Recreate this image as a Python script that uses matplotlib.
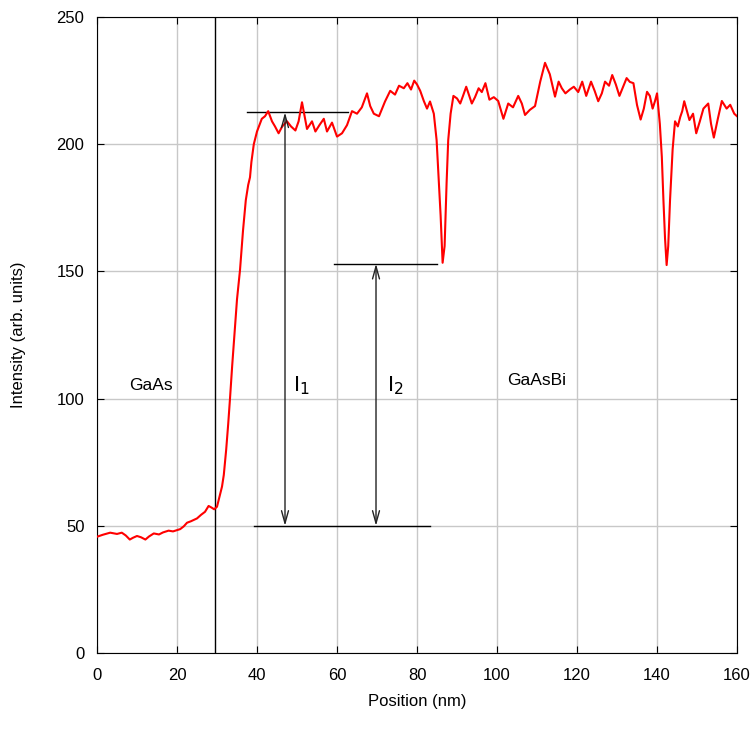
import numpy as np
import matplotlib.pyplot as plt

plt.rcParams['font.family'] = ['Liberation Sans', 'DejaVu Sans']

# Perfil de intensidade
pos = [0, 1.5, 3.3, 5, 6.2, 7.2, 8.2, 9, 10, 11, 12.1, 13, 14.2, 15.5, 16.5, 17.9, 19, 20.8,
       21.7, 22.5, 23.5, 25, 26, 27, 27.9, 28.6, 29.3, 30, 30.4, 30.8, 31.25, 31.7, 32.3, 32.8,
       33.25, 33.8, 34.4, 35, 35.75, 36.5, 37.2, 37.8, 38.25, 38.6, 39.2, 40, 40.6, 41.2, 42,
       42.8, 43.75, 44.5, 45.4, 46.3, 47.5, 48.5, 49.6, 50.4, 51.25, 52.5, 53.75, 54.6, 55.6,
       56.7, 57.5, 58.75, 60, 61.25, 62.5, 63.75, 65, 66.2, 67.5, 68.3, 69.2, 70.5, 72, 73.3,
       74.5, 75.5, 76.7, 77.6, 78.5, 79.3, 80, 80.8, 81.7, 82.5, 83.25, 84.2, 84.9, 85.3, 85.9,
       86.4, 86.9, 87.4, 87.8, 88.4, 89.1, 90, 90.8, 91.5, 92.3, 93.7, 94.5, 95.4, 96.2, 97.1,
       98.1, 99.2, 100.3, 101.6, 102.8, 104, 105.3, 106.2, 107, 108.2, 109.5, 110.8, 112,
       113.2, 114.5, 115.4, 116.2, 117.1, 118.2, 119.2, 120.3, 121.3, 122.3, 123.5, 124.4,
       125.3, 126.2, 127, 128, 128.8, 129.7, 130.6, 131.5, 132.4, 133.2, 134.1, 135, 135.9,
       136.7, 137.5, 138.2, 138.9, 139.5, 140, 140.7, 141.2, 141.6, 142, 142.4, 142.8, 143.25,
       143.9, 144.5, 145.2, 145.8, 146.3, 146.8, 147.5, 148.1, 149, 149.8, 150.7, 151.6, 152.8,
       153.5, 154.2, 155.2, 156.2, 157.4, 158.3, 159.3, 160]
intens = [45.7, 46.5, 47.3, 46.8, 47.3, 46.2, 44.6, 45.3, 46, 45.5, 44.6, 45.8, 47, 46.6, 47.4,
          48.1, 47.8, 48.7, 49.8, 51.2, 51.8, 52.9, 54.3, 55.5, 57.8, 57.2, 56.5, 57.5, 60,
          62.5, 65.4, 70, 80, 90, 100, 113, 126, 139, 150.5, 166, 178, 184, 187, 193, 200,
          205, 207.5, 210, 211, 213, 209, 207, 204.3, 207, 209, 207, 205.4, 209, 216.5, 206,
          209, 205, 207.5, 210, 205, 208.5, 203, 204.3, 207.5, 213, 212, 214.5, 220, 215,
          212, 211, 216.8, 221, 219.5, 223, 222, 224, 221.5, 225, 223.5, 221, 217, 214,
          216.8, 212, 201.6, 190, 172, 153.4, 160, 185, 201.6, 212, 219, 218, 216, 219,
          222.6, 216, 218.5, 222, 220.5, 224, 217.5, 218.5, 217, 210, 216, 214.5, 219, 216,
          211.5, 213.5, 215, 224.6, 232, 227.5, 218.7, 224.6, 222, 220, 221.5, 222.6, 220.5,
          224.6, 219, 224.6, 221, 216.9, 220, 224.6, 223, 227.2, 223.5, 219, 222.5, 226,
          224.5, 224, 215.4, 209.7, 214, 220.6, 219, 214, 217, 220, 208, 195, 178, 163,
          152.5, 160, 178, 198, 209, 207, 210.7, 213, 216.9, 213, 209.5, 212, 204.3, 209,
          214, 216, 208, 202.6, 210, 217, 214, 215.5, 212, 211]

# Anotações
nivel_topo = 212.5
nivel_dip = 153
nivel_base = 50
x_i1 = 47
x_i2 = 69.75

fig = plt.figure(figsize=(7.53, 7.31), dpi=100)
ax = fig.add_axes([0.1288, 0.1067, 0.85, 0.87])

ax.grid(True, color='#c8c8c8', linewidth=1)
ax.set_axisbelow(True)

ax.plot(pos, intens, color='red', linewidth=1.5, zorder=3)

ax.axvline(29.6, color='black', linewidth=1, zorder=2)
ax.plot([37.4, 62.8], [nivel_topo, nivel_topo], color='black', linewidth=1)
ax.plot([59.25, 85], [nivel_dip, nivel_dip], color='black', linewidth=1)
ax.plot([39.25, 83.25], [nivel_base, nivel_base], color='black', linewidth=1)

seta = dict(arrowstyle='<->,head_length=0.9,head_width=0.25', color='#222222',
            linewidth=1, shrinkA=0, shrinkB=0)
ax.annotate('', xy=(x_i1, nivel_topo), xytext=(x_i1, nivel_base), arrowprops=seta)
ax.annotate('', xy=(x_i2, nivel_dip), xytext=(x_i2, nivel_base), arrowprops=seta)

ax.text(51, 105, 'I$_1$', fontsize=16, ha='center', va='center')
ax.text(74.5, 105, 'I$_2$', fontsize=16, ha='center', va='center')
ax.text(13.5, 105, 'GaAs', fontsize=12.5, ha='center', va='center')
ax.text(110, 107, 'GaAsBi', fontsize=12.5, ha='center', va='center')

ax.set_xlim(0, 160)
ax.set_ylim(0, 250)
ax.set_xticks(np.arange(0, 161, 20))
ax.set_yticks(np.arange(0, 251, 50))
ax.tick_params(direction='in', top=True, right=True, labelsize=12, length=5)
ax.tick_params(axis='x', pad=11)
ax.tick_params(axis='y', pad=9)
ax.set_xlabel('Position (nm)', fontsize=12, labelpad=8)
ax.set_ylabel('Intensity (arb. units)', fontsize=12, labelpad=22)

fig.savefig('out.png', dpi=100)
